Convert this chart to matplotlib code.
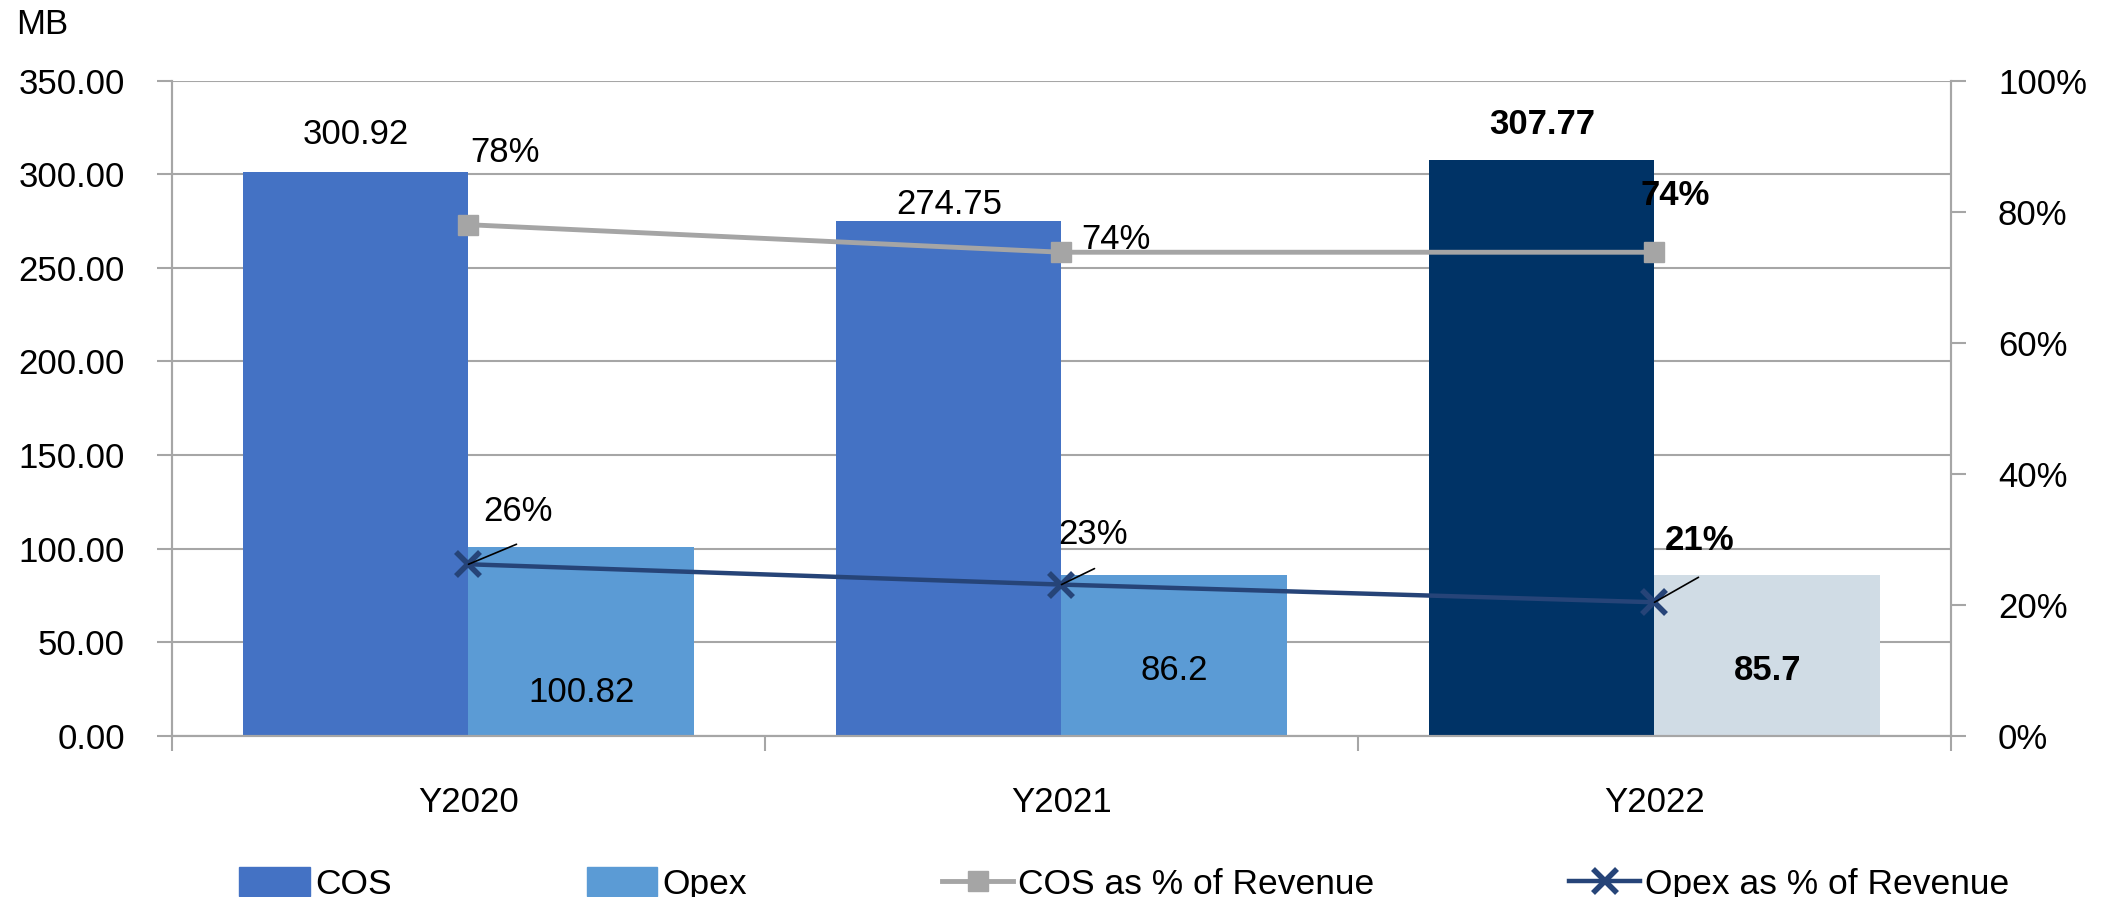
import numpy as np
import matplotlib.pyplot as plt
from matplotlib.ticker import FixedLocator

plt.rcParams['font.family'] = ['Liberation Sans', 'DejaVu Sans']

years = ["Y2020", "Y2021", "Y2022"]
cos = [300.92, 274.75, 307.77]
opex = [100.82, 86.2, 85.7]
cos_pct = [0.78, 0.738, 0.738]
opex_pct = [0.262, 0.231, 0.204]
cos_pct_labels = ["78%", "74%", "74%"]
opex_pct_labels = ["26%", "23%", "21%"]
left_ticks = [0, 50, 100, 150, 200, 250, 300, 350]
right_ticks = [0, 0.2, 0.4, 0.6, 0.8, 1.0]

cos_colors = ["#4472C4", "#4472C4", "#003366"]
opex_colors = ["#5B9BD5", "#5B9BD5", "#D0DCE5"]
weights = ["normal", "normal", "bold"]
grey = "#A6A6A6"
fs = 25


def px(v):
    # pixel offset -> points (dpi 100)
    return v * 0.72


fig = plt.figure(figsize=(21.05, 8.97), dpi=100)
ax = fig.add_axes([172 / 2105, 1 - 736 / 897, (1951 - 172) / 2105, (736 - 80.5) / 897])
ax2 = ax.twinx()

x = np.arange(len(years))
w = 0.38
ax.bar(x - w / 2, cos, w, color=cos_colors, zorder=2)
ax.bar(x + w / 2, opex, w, color=opex_colors, zorder=2)

ax.set_xlim(-0.5, 2.5)
ax.set_ylim(0, 350)
ax2.set_ylim(0, 1)

ax.set_axisbelow(True)
ax.yaxis.grid(True, color=grey, lw=1.5)
ax.set_yticks(left_ticks)
ax.set_yticklabels(["%.2f" % t for t in left_ticks])
ax2.set_yticks(right_ticks)
ax2.set_yticklabels(["%d%%" % round(t * 100) for t in right_ticks])

ax.set_xticks(x)
ax.set_xticklabels(years)
ax.xaxis.set_minor_locator(FixedLocator([-0.5, 0.5, 1.5, 2.5]))
ax.tick_params(axis='x', which='major', length=0, pad=px(50), labelsize=fs)
ax.tick_params(axis='x', which='minor', length=px(15), width=1.5, color=grey)
ax.tick_params(axis='y', length=px(15), width=1.5, color=grey, pad=px(32), labelsize=fs)
ax2.tick_params(axis='y', length=px(15), width=1.5, color=grey, pad=px(32), labelsize=fs)

for a in (ax, ax2):
    a.spines['top'].set_visible(False)
    for s in ('left', 'right', 'bottom'):
        a.spines[s].set_color(grey)
        a.spines[s].set_linewidth(1.5)

l1, = ax2.plot(x, cos_pct, color="#A5A5A5", lw=3.5, marker='s', ms=15,
               label="COS as % of Revenue", zorder=3)
l2, = ax2.plot(x, opex_pct, color="#264478", lw=3.2, marker='x', ms=17, mew=4,
               label="Opex as % of Revenue", zorder=3)

# bar value labels
cos_off = [38, 17, 35]
for i in range(3):
    ax.annotate("%.2f" % cos[i], (x[i] - w / 2, cos[i]), xytext=(0, px(cos_off[i])),
                textcoords='offset points', ha='center', va='center',
                fontsize=fs, fontweight=weights[i])
opex_off = [43, 65, 65]
for i in range(3):
    ax.annotate(str(opex[i]), (x[i] + w / 2, 0), xytext=(0, px(opex_off[i])),
                textcoords='offset points', ha='center', va='center',
                fontsize=fs, fontweight=weights[i])

# percentage labels
cos_pct_off = [(2, 72), (20, 13), (-14, 57)]
for i in range(3):
    ax2.annotate(cos_pct_labels[i], (x[i], cos_pct[i]),
                 xytext=(px(cos_pct_off[i][0]), px(cos_pct_off[i][1])),
                 textcoords='offset points', ha='left', va='center',
                 fontsize=fs, fontweight=weights[i], zorder=5)
opex_pct_off = [(15, 53), (-3, 50), (10, 62)]
leader = [(48, 20), (33, 16), (44, 25)]
for i in range(3):
    ax2.annotate(opex_pct_labels[i], (x[i], opex_pct[i]),
                 xytext=(px(opex_pct_off[i][0]), px(opex_pct_off[i][1])),
                 textcoords='offset points', ha='left', va='center',
                 fontsize=fs, fontweight=weights[i], zorder=5)
    ax2.annotate("", (x[i], opex_pct[i]),
                 xytext=(px(leader[i][0]), px(leader[i][1])),
                 textcoords='offset points',
                 arrowprops=dict(arrowstyle='-', color='black', lw=1.2,
                                 shrinkA=0, shrinkB=0), zorder=5)

fig.text(16 / 2105, 1 - 24 / 897, "MB", fontsize=fs, ha='left', va='center')

p1 = plt.Rectangle((0, 0), 1, 1, color="#4472C4")
p2 = plt.Rectangle((0, 0), 1, 1, color="#5B9BD5")
fig.legend([p1, p2, l1, l2], ["COS", "Opex", "COS as % of Revenue", "Opex as % of Revenue"],
           loc='center left', bbox_to_anchor=(239 / 2105, 1 - 884 / 897), ncol=4,
           frameon=False, fontsize=25.5, handlelength=2.0, handleheight=0.9,
           handletextpad=0.15, columnspacing=5.5, borderpad=0, borderaxespad=0)

fig.savefig("out.png", dpi=100)
